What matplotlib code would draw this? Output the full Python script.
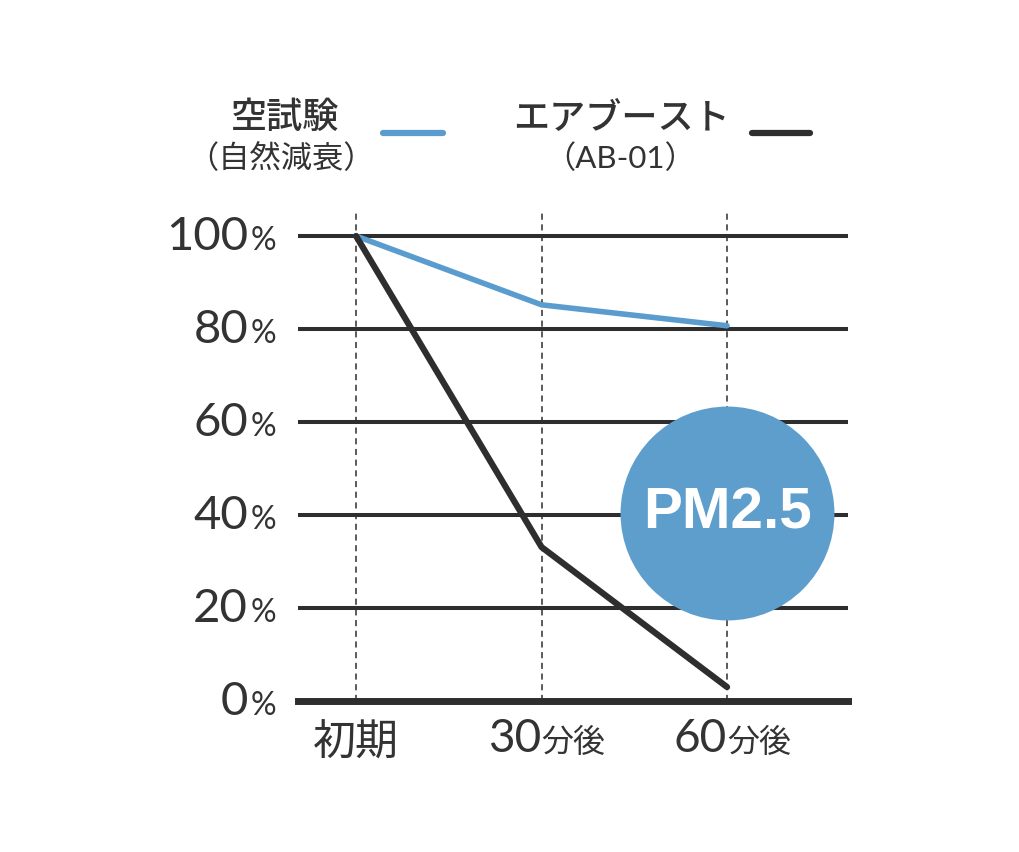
import re
import matplotlib
matplotlib.use('Agg')
import matplotlib.pyplot as plt
from matplotlib.lines import Line2D

categories = ["初期", "30分後", "60分後"]
natural = [100, 85.2, 80.7]
airboost = [100, 33.1, 3.0]
yticks = [0, 20, 40, 60, 80, 100]
legend_main = ["空試験", "エアブースト"]
legend_sub = ["（自然減衰）", "（AB-01）"]
badge = "PM2.5"
badge_pos = (2, 40.4)

BLUE = "#5b9ccf"
DARK = "#2e2e2e"
TEXT = "#333333"
CIRCLE = "#5e9ecd"

plt.rcParams['font.family'] = ['Noto Sans CJK JP', 'DejaVu Sans']
NUMFONT = ['Lato', 'Noto Sans CJK JP', 'DejaVu Sans']

W, H = 1020, 852
fig = plt.figure(figsize=(W / 100, H / 100), dpi=100)
ax = fig.add_axes([298 / W, 1 - 701 / H, 550 / W, (701 - 212.75) / H])
x = list(range(len(categories)))
ax.set_xlim(-0.313, 2.652)
ax.set_ylim(0, 105)
for s in ax.spines.values():
    s.set_visible(False)
ax.set_xticks([])
ax.set_yticks([])

for yv in yticks[1:]:
    ax.axhline(yv, color=DARK, lw=2.9, zorder=1)
ax.axhline(0, color=DARK, lw=5, zorder=4, clip_on=False)
for xi in x:
    ax.axvline(xi, color=DARK, lw=1.1, ls=(0, (4, 3)), zorder=2)

ax.scatter([badge_pos[0]], [badge_pos[1]], s=154 ** 2, color=CIRCLE, zorder=3, linewidths=0)
ax.text(badge_pos[0], badge_pos[1], badge, color='white', fontsize=42, fontweight='bold',
        family='Liberation Sans', ha='center', va='center', zorder=6)

ax.plot(x, natural, color=BLUE, lw=4, solid_capstyle='round', zorder=5)
ax.plot(x, airboost, color=DARK, lw=4.5, solid_capstyle='round', zorder=5)

# y tick labels
ytr = ax.get_yaxis_transform()
for yv in yticks:
    ax.annotate(f"{yv}", xy=(-0.0909, yv), xycoords=ytr, xytext=(0, -14),
                textcoords='offset pixels', ha='right', va='baseline',
                fontsize=34, family=NUMFONT, color=TEXT)
    ax.annotate("%", xy=(-0.087, yv), xycoords=ytr, xytext=(0, -14),
                textcoords='offset pixels', ha='left', va='baseline',
                fontsize=23, family=NUMFONT, color=TEXT)

# x tick labels
xtr = ax.get_xaxis_transform()
ylab = -0.104
for xi, cat in zip(x, categories):
    m = re.match(r"(\d+)(.*)", cat)
    if m:
        ax.text(xi, ylab, m.group(1), transform=xtr, ha='right', va='baseline',
                fontsize=33, family=NUMFONT, color=TEXT)
        ax.text(xi, ylab, m.group(2), transform=xtr, ha='left', va='baseline',
                fontsize=23, color=TEXT)
    else:
        ax.text(xi, ylab - 0.008, cat, transform=xtr, ha='center', va='baseline',
                fontsize=31, color=TEXT)

# legend
main_x = [285, 621]
sub_x = [281, 620]
line_x = [(383, 443), (752, 810)]
colors = [BLUE, DARK]
for i in range(2):
    fig.text(main_x[i] / W, 1 - 118 / H, legend_main[i], ha='center', va='center',
             fontsize=26, fontweight='medium', color=TEXT)
    fig.text(sub_x[i] / W, 1 - 158 / H, legend_sub[i], ha='center', va='center',
             fontsize=22.5, color=TEXT, family=['Lato', 'Noto Sans CJK JP'])
    fig.add_artist(Line2D([line_x[i][0] / W, line_x[i][1] / W], [1 - 133 / H] * 2,
                          transform=fig.transFigure, color=colors[i], lw=4.5,
                          solid_capstyle='round'))

fig.savefig("out.png", dpi=100, facecolor='white')
